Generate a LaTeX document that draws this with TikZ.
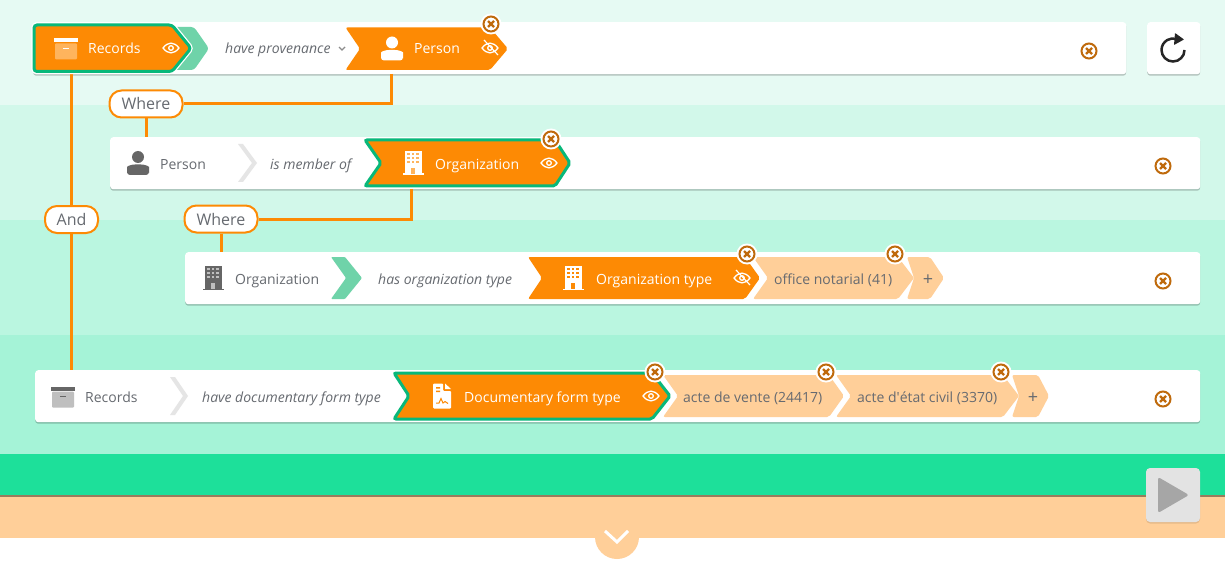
\documentclass[tikz,border=0pt]{standalone}
\usepackage{fontspec}
\usepackage{xcolor}
\setmainfont{Open Sans}
\usetikzlibrary{arrows.meta,shadows}

\definecolor{bandone}{HTML}{E6FAF3}
\definecolor{bandtwo}{HTML}{D2F8EA}
\definecolor{bandthree}{HTML}{BAF6E0}
\definecolor{bandfour}{HTML}{A5F3D7}
\definecolor{bandgreen}{HTML}{1DE09A}
\definecolor{peach}{HTML}{FFCF99}
\definecolor{tagorange}{HTML}{FD8A04}
\definecolor{tagborder}{HTML}{08B87A}
\definecolor{softgreen}{HTML}{6FD3A9}
\definecolor{closering}{HTML}{BF6A0C}
\definecolor{labelgray}{HTML}{666A70}
\definecolor{icongray}{HTML}{666666}

\tikzset{
  rowbox/.style={fill=white, rounded corners=3pt, inner sep=0pt, anchor=north west,
    drop shadow={shadow xshift=0pt, shadow yshift=-1.5pt, opacity=.22, fill=black}},
  joinline/.style={tagorange, line width=3pt},
  joinpill/.style={draw=tagorange, fill=white, line width=2pt, rounded corners=12pt,
    minimum height=27pt, inner xsep=0pt, inner ysep=0pt, font=\fontsize{16}{18}\selectfont, text=labelgray},
  word/.style={anchor=base west, inner sep=0pt, font=\fontsize{14}{16}\selectfont, text=labelgray},
  onword/.style={word, text=white},
  verb/.style={word, font=\fontsize{14}{16}\selectfont\itshape},
  plusword/.style={word, anchor=base, font=\fontsize{18}{18}\selectfont},
  pics/closeicon/.style={code={
    \fill[white] (0,0) circle (10.5);
    \draw[closering, line width=2pt] (0,0) circle (7.5);
    \draw[closering, line width=2.2pt] (-3,-3) -- (3,3) (-3,3) -- (3,-3);
  }},
  pics/eyeicon/.style={code={
    \draw[white, line width=1.3pt] (-8,0) .. controls (-3,-6.5) and (3,-6.5) .. (8,0) .. controls (3,6.5) and (-3,6.5) .. (-8,0) -- cycle;
    \draw[white, line width=1.3pt] (0,0) circle (2.3);
  }},
  pics/eyeofficon/.style={code={
    \pic {eyeicon};
    \draw[white, line width=1.2pt] (-6,-8) -- (8,7);
  }},
  pics/boxicon/.style 2 args={code={
    \fill[#1] (-12,-10) rectangle (12,-6);
    \fill[#2, rounded corners=1pt] (-11,-5) rectangle (11,11);
    \fill[#1] (-3,-0.5) rectangle (3,0.5);
  }},
  pics/personicon/.style={code={
    \fill (0,-6) circle (6);
    \fill[rounded corners=3pt] (-11,12) -- (-11,7) .. controls (-11,3) and (-6,1.5) .. (0,1.5) .. controls (6,1.5) and (11,3) .. (11,7) -- (11,12) -- cycle;
  }},
  pics/buildingicon/.style 2 args={code={
    \fill[#1] (-8.5,-12) rectangle (8.5,11);
    \fill[#1] (-10.5,10.5) rectangle (10.5,12);
    \foreach \col in {-4.5,0,4.5}
      \foreach \lev in {-9,-5,-1}
        \fill[#2] (\col-1.3,\lev-1.3) rectangle (\col+1.3,\lev+1.3);
    \fill[#2] (-1.8,5) rectangle (1.8,11);
  }},
  pics/docicon/.style={code={
    \fill[white, rounded corners=1pt] (-9,-12.5) -- (1,-12.5) -- (1,-5) -- (9,-5) -- (9,12.5) -- (-9,12.5) -- cycle;
    \fill[white] (3,-12.5) -- (9,-7) -- (3,-7) -- cycle;
    \fill[tagorange] (-6,-9) rectangle (-2,-7.5) (-6,-5.5) rectangle (-2,-4);
    \draw[tagorange, line width=1pt] (-6,7) -- (-3,7) -- (-1,2.5) -- (1,7) -- (3,5.5) -- (6,7.5);
  }}
}

\newcommand{\tagshape}[7][]{%
  \path[#1] (#2,#6) -- (#4,#6) -- (#5,{(#6+#7)/2}) -- (#4,#7) -- (#2,#7) -- (#3,{(#6+#7)/2}) -- cycle;}

\begin{document}
\begin{tikzpicture}[x=1pt, y=-1pt]
\useasboundingbox (0,0) rectangle (1225,564);

% background bands
\fill[white] (0,0) rectangle (1225,564);
\fill[bandone] (0,0) rectangle (1225,105);
\fill[bandtwo] (0,105) rectangle (1225,220);
\fill[bandthree] (0,220) rectangle (1225,335);
\fill[bandfour] (0,335) rectangle (1225,454);
\fill[bandgreen] (0,454) rectangle (1225,496);
\fill[peach] (0,496) rectangle (1225,538);
\fill[black!40!peach] (0,495) rectangle (1225,497);
\fill[peach] (595,537) arc[start angle=180, end angle=0, radius=22] -- cycle;

% rows
\node[rowbox, minimum width=1093pt, minimum height=52pt] (rowrecords) at (33,22) {};
\node[rowbox, minimum width=1090pt, minimum height=52pt] (rowperson) at (110,137) {};
\node[rowbox, minimum width=1015pt, minimum height=52pt] (roworganization) at (185,252) {};
\node[rowbox, minimum width=1165pt, minimum height=52pt] (rowdocument) at (35,370) {};
\node[rowbox, minimum width=53pt, minimum height=52pt] (refreshbox) at (1147,22) {};

% where and and links
\coordinate (recordsfoot) at (71.5,74);
\coordinate (personfoot) at (391,74);
\coordinate (organizationfoot) at (411.5,189);
\node[joinpill, minimum width=73pt] (whereone) at (146,104) {Where};
\node[joinpill, minimum width=73pt] (wheretwo) at (221,219) {Where};
\node[joinpill, minimum width=53pt] (andpill) at (71.5,219.5) {And};
\draw[joinline] (recordsfoot) -- (andpill.north);
\draw[joinline] (andpill.south) -- (andpill.south |- rowdocument.north);
\draw[joinline] (personfoot) |- (whereone.east);
\draw[joinline] (whereone.south) -- (whereone.south |- rowperson.north);
\draw[joinline] (organizationfoot) |- (wheretwo.east);
\draw[joinline] (wheretwo.south) -- (wheretwo.south |- roworganization.north);

% first row
\tagshape[fill=softgreen, rounded corners=3pt]{172}{172}{194}{209}{27}{70}
\tagshape[draw=white, line width=5.5pt, rounded corners=3pt]{34}{34}{172}{191}{25}{71.5}
\tagshape[fill=tagorange, draw=tagborder, line width=3pt, rounded corners=3pt]{34}{34}{172}{191}{25}{71.5}
\pic at (66,48.5) {boxicon={white}{peach!60!tagorange}};
\node[onword] (recordsone) at (88,54) {Records};
\pic at (171,48) {eyeicon};
\node[verb] (verbprovenance) at (225,54) {have provenance};
\draw[black!45, line width=1.4pt] (339,47) -- (342,50) -- (345,47);
\tagshape[fill=tagorange, rounded corners=2pt]{345.5}{360}{490}{508}{27.5}{70}
\pic[white] at (392,48.5) {personicon};
\node[onword] (personone) at (414,54) {Person};
\pic at (490,48) {eyeofficon};
\pic at (491,24) {closeicon};
\pic at (1089,51) {closeicon};
\draw[black!85, line width=2.5pt] (1184.5,50) arc[start angle=0, end angle=285, radius=11.5];
\fill[black!85, rounded corners=.5pt] (1175,33) -- (1184,39.5) -- (1174,45) -- cycle;

% second row
\pic[icongray] at (138,163) {personicon};
\node[word] (persontwo) at (160,169.5) {Person};
\tagshape[fill=black!10]{238}{252}{243}{257}{144}{182}
\node[verb] (verbmember) at (270,169.5) {is member of};
\tagshape[fill=tagorange, draw=tagborder, line width=3pt, rounded corners=2pt]{365}{381}{555}{570}{140}{186}
\pic at (413,163) {buildingicon={white}{peach!60!tagorange}};
\node[onword] (organizationone) at (435,169.5) {Organization};
\pic at (549,163) {eyeicon};
\pic at (551,139) {closeicon};
\pic at (1163,166) {closeicon};

% third row
\pic at (213,278) {buildingicon={icongray}{black!25}};
\node[word] (organizationtwo) at (235,284) {Organization};
\tagshape[fill=softgreen, rounded corners=1pt]{331}{346}{345}{362}{257}{299}
\node[verb] (verborgtype) at (378,284) {has organization type};
\tagshape[fill=peach, rounded corners=2pt]{753}{768}{898}{914}{257}{299}
\tagshape[fill=white]{748}{763}{748}{763}{253}{303}
\tagshape[fill=tagorange, rounded corners=2pt]{528}{542}{745}{760}{257}{299}
\pic at (573,278) {buildingicon={white}{tagorange}};
\node[onword] (orgtypetag) at (596,284) {Organization type};
\pic at (742,278) {eyeofficon};
\node[word] (notarial) at (774,284) {office notarial (41)};
\tagshape[fill=peach, rounded corners=2pt]{907}{914}{930}{944}{257}{299}
\node[plusword] (plusone) at (928,285) {+};
\pic at (747,254) {closeicon};
\pic at (895,254) {closeicon};
\pic at (1163,281) {closeicon};

% fourth row
\pic at (63,396.5) {boxicon={icongray}{black!25}};
\node[word] (recordstwo) at (85,402) {Records};
\tagshape[fill=black!10]{170}{183}{175}{188}{377}{415}
\node[verb] (verbform) at (202,402) {have documentary form type};
\tagshape[fill=peach, rounded corners=2pt]{663}{678}{829}{844}{375}{417}
\tagshape[fill=peach, rounded corners=2pt]{836}{851}{1003}{1019}{375}{417}
\tagshape[fill=tagorange, draw=tagborder, line width=3pt, rounded corners=2pt]{394}{409}{652}{670}{373}{419}
\pic at (442,396) {docicon};
\node[onword] (formtag) at (464,402) {Documentary form type};
\pic at (651,396) {eyeicon};
\node[word] (vente) at (683,402) {acte de vente (24417)};
\node[word] (etatcivil) at (857,402) {acte d\textquotesingle état civil (3370)};
\tagshape[fill=peach, rounded corners=2pt]{1012}{1019}{1038}{1049}{375}{417}
\node[plusword] (plustwo) at (1033,403) {+};
\pic at (655,372) {closeicon};
\pic at (826,372) {closeicon};
\pic at (1001,372) {closeicon};
\pic at (1163,399) {closeicon};

% launch button and fold arrow
\node[fill=black!11, rounded corners=4pt, minimum size=54pt, inner sep=0pt,
  drop shadow={shadow xshift=0pt, shadow yshift=-1.5pt, opacity=.1, fill=black}] (playbox) at (1173,495) {};
\fill[black!35, rounded corners=2.5pt] (1158,477) -- (1189,495) -- (1158,513) -- cycle;
\draw[white, line width=3pt] (605,531) -- (617,542) -- (628,531);

\end{tikzpicture}
\end{document}
